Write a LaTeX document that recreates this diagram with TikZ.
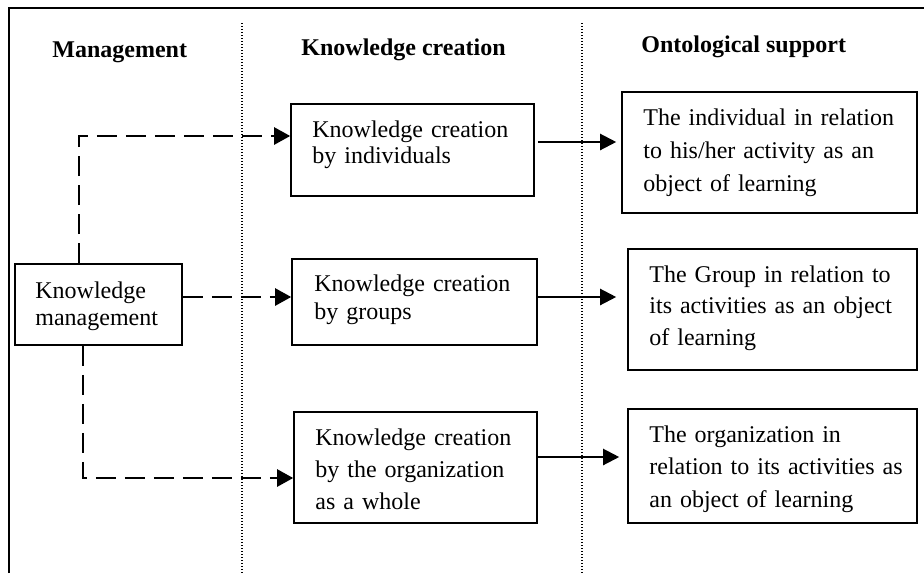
\documentclass[tikz,border=0pt]{standalone}
\usepackage{fontspec}
\setmainfont{Liberation Serif}
\usetikzlibrary{arrows.meta}
\tikzset{
  boxst/.style={draw, line width=0.8pt, inner sep=0pt},
  txt/.style={inner sep=0pt, anchor=base west, align=left, text width=150pt},
  hdr/.style={font=\fontsize{12}{14}\selectfont\bfseries, inner sep=0pt, anchor=base west},
  dasharr/.style={line width=1.2pt, dash pattern=on 10pt off 4.5pt, -{Triangle[length=8pt,width=8.5pt]}},
  solarr/.style={line width=1.1pt, -{Triangle[length=8pt,width=8pt]}},
  sepline/.style={line width=0.6pt, dash pattern=on 0.6pt off 0.9pt},
  frame/.style={line width=1.3pt}
}
\begin{document}
\begin{tikzpicture}[x=0.5pt,y=-0.5pt]
\useasboundingbox (0,0) rectangle (924,573);
% frame and column separators
\draw[frame] (9,573) -- (9,8) -- (924,8);
\draw[sepline] (242,23) -- (242,573);
\draw[sepline] (582,23) -- (582,573);
% headers
\node[hdr] (h1) at (52,57) {Management};
\node[hdr] (h2) at (301,55) {Knowledge creation};
\node[hdr] (h3) at (641,52) {Ontological support};
% boxes
\node[boxst, minimum width=83.5pt, minimum height=40.5pt] (km) at (98.5,304.5) {};
\node[boxst, minimum width=121.5pt, minimum height=46pt] (kc1) at (412.5,150) {};
\node[boxst, minimum width=122.5pt, minimum height=43pt] (kc2) at (414.5,302) {};
\node[boxst, minimum width=121.5pt, minimum height=55.5pt] (kc3) at (415.5,467.5) {};
\node[boxst, minimum width=147.5pt, minimum height=60.5pt] (o1) at (769.5,152.5) {};
\node[boxst, minimum width=144.5pt, minimum height=60.5pt] (o2) at (772.5,309.5) {};
\node[boxst, minimum width=144.5pt, minimum height=57pt] (o3) at (772.5,466) {};
% box texts
\node[txt, font=\fontsize{12}{13.5}\selectfont] (kmt) at (35,298) {Knowledge\\management};
\node[txt, font=\fontsize{12}{13}\selectfont] (kc1t) at (312,137) {Knowledge creation\\by individuals};
\node[txt, font=\fontsize{12}{14}\selectfont] (kc2t) at (314,291) {Knowledge creation\\by groups};
\node[txt, font=\fontsize{12}{16}\selectfont] (kc3t) at (315,445) {Knowledge creation\\by the organization\\as a whole};
\node[txt, font=\fontsize{12}{16.5}\selectfont] (o1t) at (643,125) {The individual in relation\\to his/her activity as an\\object of learning};
\node[txt, font=\fontsize{12}{15.75}\selectfont] (o2t) at (649,282) {The Group in relation to\\its activities as an object\\of learning};
\node[txt, font=\fontsize{12}{16.25}\selectfont] (o3t) at (649,442) {The organization in\\relation to its activities as\\an object of learning};
% dashed connectors
\coordinate (c1) at (79,136);
\coordinate (c2) at (0,297);
\coordinate (c3) at (83,478);
\draw[dasharr] (c1 |- km.north) -- (c1) -- (c1 -| kc1.west);
\draw[dasharr] (km.east |- c2) -- (kc2.west |- c2);
\draw[dasharr] (c3 |- km.south) -- (c3) -- (c3 -| kc3.west);
% solid connectors
\coordinate (s1) at (0,142);
\coordinate (s2) at (0,297);
\coordinate (s3) at (0,457);
\draw[solarr, shorten <=1.5pt, shorten >=2.5pt] (kc1.east |- s1) -- (o1.west |- s1);
\draw[solarr, shorten >=5.5pt] (kc2.east |- s2) -- (o2.west |- s2);
\draw[solarr, shorten >=4pt] (kc3.east |- s3) -- (o3.west |- s3);
\end{tikzpicture}
\end{document}
